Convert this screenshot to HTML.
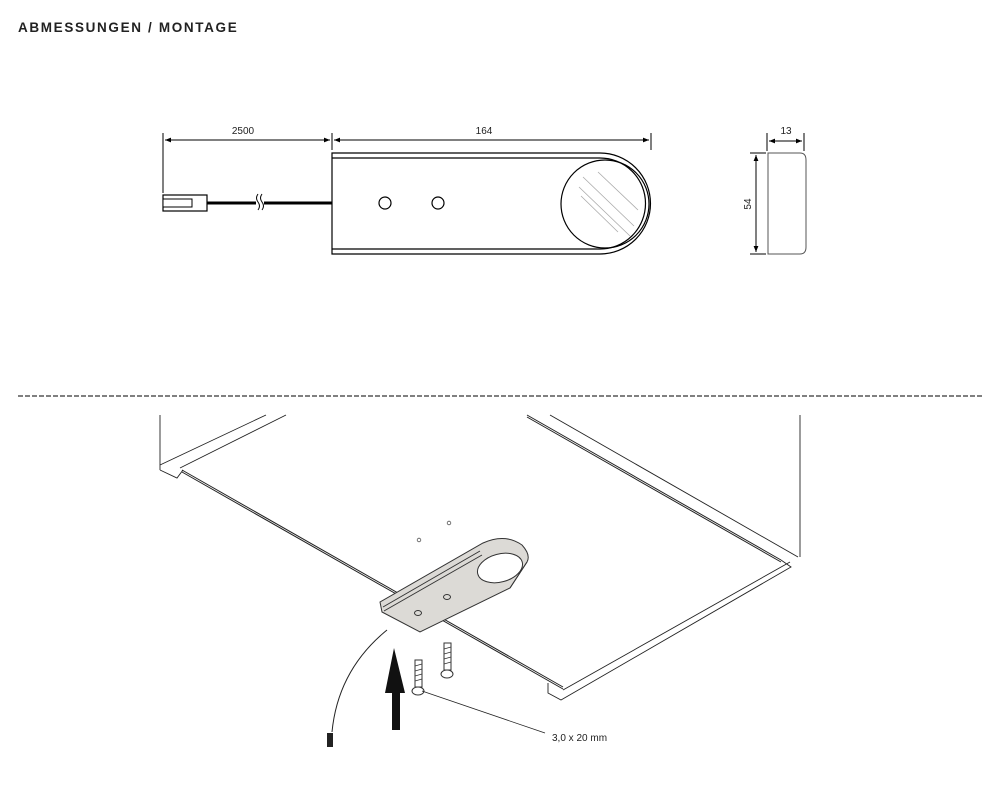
<!DOCTYPE html>
<html><head><meta charset="utf-8"><style>
html,body{margin:0;padding:0;background:#fff;}
svg{display:block;}
text{font-family:"Liberation Sans",sans-serif;}
</style></head><body>
<svg width="989" height="800" viewBox="0 0 989 800" xmlns="http://www.w3.org/2000/svg">
<defs>
<marker id="a" viewBox="0 0 10 10" refX="10" refY="5" markerWidth="8" markerHeight="6" orient="auto-start-reverse"><path d="M0,1 L10,5 L0,9 Z" fill="#000"/></marker>
</defs>
<text x="18" y="32" font-size="13.5" font-weight="bold" fill="#222" letter-spacing="1.3" textLength="220" lengthAdjust="spacing">ABMESSUNGEN / MONTAGE</text>

<g stroke="#000" stroke-width="1" fill="none">
<line x1="163" y1="133" x2="163" y2="193"/>
<line x1="332" y1="133" x2="332" y2="150"/>
<line x1="651" y1="133" x2="651" y2="150"/>
<line x1="165" y1="140" x2="330" y2="140" marker-start="url(#a)" marker-end="url(#a)"/>
<line x1="334" y1="140" x2="649" y2="140" marker-start="url(#a)" marker-end="url(#a)"/>
</g>
<text x="243" y="134" font-size="10" text-anchor="middle" fill="#222">2500</text>
<text x="484" y="134" font-size="10" text-anchor="middle" fill="#222">164</text>

<g stroke="#000" stroke-width="1.2" fill="none">
<path d="M332,153 L600,153 A50.5,50.5 0 0 1 600,254 L332,254 Z"/>
<path d="M332,158 L600,158 A45.5,45.5 0 0 1 600,249 L332,249"/>
<circle cx="605" cy="204" r="44"/>
<circle cx="385" cy="203" r="6"/>
<circle cx="438" cy="203" r="6"/>
</g>
<g stroke="#aaa" stroke-width="0.8">
<line x1="583" y1="177" x2="634" y2="226"/>
<line x1="579" y1="187" x2="630" y2="236"/>
<line x1="598" y1="172" x2="638" y2="210"/>
<line x1="581" y1="196" x2="618" y2="232"/>
</g>
<line x1="207" y1="203" x2="332" y2="203" stroke="#000" stroke-width="3"/>
<rect x="256" y="196" width="8" height="14" fill="#fff"/>
<path d="M258,194 q-3,4 0,8 q3,4 0,8 M262,194 q-3,4 0,8 q3,4 0,8" stroke="#000" stroke-width="1" fill="none"/>
<rect x="163" y="195" width="44" height="16" fill="#fff" stroke="#000" stroke-width="1.2"/>
<rect x="163" y="199" width="29" height="8" fill="#fff" stroke="#000" stroke-width="1"/>

<g stroke="#000" stroke-width="1" fill="none">
<path d="M768,153 L800,153 Q806,153 806,160 L806,247 Q806,254 800,254 L768,254 Z" stroke="#555"/>
<line x1="767" y1="133" x2="767" y2="151"/>
<line x1="804" y1="133" x2="804" y2="151"/>
<line x1="769" y1="141" x2="802" y2="141" marker-start="url(#a)" marker-end="url(#a)"/>
<line x1="750" y1="153" x2="766" y2="153"/>
<line x1="750" y1="254" x2="766" y2="254"/>
<line x1="756" y1="155" x2="756" y2="252" marker-start="url(#a)" marker-end="url(#a)"/>
</g>
<text x="786" y="134" font-size="10" text-anchor="middle" fill="#222">13</text>
<text x="0" y="0" font-size="10" text-anchor="middle" fill="#222" transform="translate(751,204) rotate(-90)">54</text>

<line x1="18" y1="396" x2="982" y2="396" stroke="#000" stroke-width="1" stroke-dasharray="5,2"/>

<g stroke="#222" stroke-width="0.9" fill="none">
<line x1="160" y1="415" x2="160" y2="470"/>
<line x1="160" y1="465" x2="266" y2="415"/>
<line x1="180" y1="468" x2="286" y2="415"/>
<path d="M160,470 L177,478 L183,470"/>
<line x1="182" y1="470" x2="563" y2="687" stroke-width="1"/>
<line x1="182" y1="472" x2="563" y2="689" stroke-width="1"/>
<line x1="527" y1="415" x2="781" y2="560" stroke-width="1"/>
<line x1="527" y1="417" x2="781" y2="562" stroke-width="1"/>
<line x1="550" y1="415" x2="798" y2="557"/>
<line x1="800" y1="415" x2="800" y2="557"/>
<path d="M781,560 L791,567 L561,700 L548,693 L548,683"/>
<line x1="790" y1="562" x2="563" y2="690"/>
</g>
<circle cx="449" cy="523" r="1.8" fill="none" stroke="#555" stroke-width="0.8"/>
<circle cx="419" cy="540" r="1.8" fill="none" stroke="#555" stroke-width="0.8"/>

<g stroke="#333" stroke-width="1">
<path d="M380,602 L483,543 Q505,533 522,545 Q531,555 527,562 L510,588 L420,632 L382,612 Z" fill="#dcdad6"/>
<path d="M383,607 L480,551 M384,611 L482,555 M510,588 L527,562" fill="none"/>
<ellipse cx="500" cy="568" rx="23" ry="14" transform="rotate(-15 500 568)" fill="#fff"/>
<ellipse cx="447" cy="597" rx="3.5" ry="2.5" fill="none"/>
<ellipse cx="418" cy="613" rx="3.5" ry="2.5" fill="none"/>
</g>
<path d="M387,630 Q338,670 332,732" stroke="#222" stroke-width="1" fill="none"/>
<rect x="327" y="733" width="6" height="14" fill="#222"/>
<path d="M392,730 L392,693 L385,693 L394,648 L405,693 L400,693 L400,730 Z" fill="#111"/>
<g fill="#fff" stroke="#333" stroke-width="1">
<rect x="415" y="660" width="7" height="27"/>
<ellipse cx="418" cy="691" rx="6" ry="4"/>
<rect x="444" y="643" width="7" height="27"/>
<ellipse cx="447" cy="674" rx="6" ry="4"/>
</g>
<g stroke="#333" stroke-width="0.7">
<line x1="415" y1="666" x2="422" y2="664"/><line x1="415" y1="671" x2="422" y2="669"/><line x1="415" y1="676" x2="422" y2="674"/><line x1="415" y1="681" x2="422" y2="679"/>
<line x1="444" y1="649" x2="451" y2="647"/><line x1="444" y1="654" x2="451" y2="652"/><line x1="444" y1="659" x2="451" y2="657"/><line x1="444" y1="664" x2="451" y2="662"/>
</g>
<line x1="422" y1="691" x2="545" y2="733" stroke="#222" stroke-width="0.8"/>
<text x="552" y="741" font-size="10" fill="#222">3,0 x 20 mm</text>
</svg>
</body></html>
